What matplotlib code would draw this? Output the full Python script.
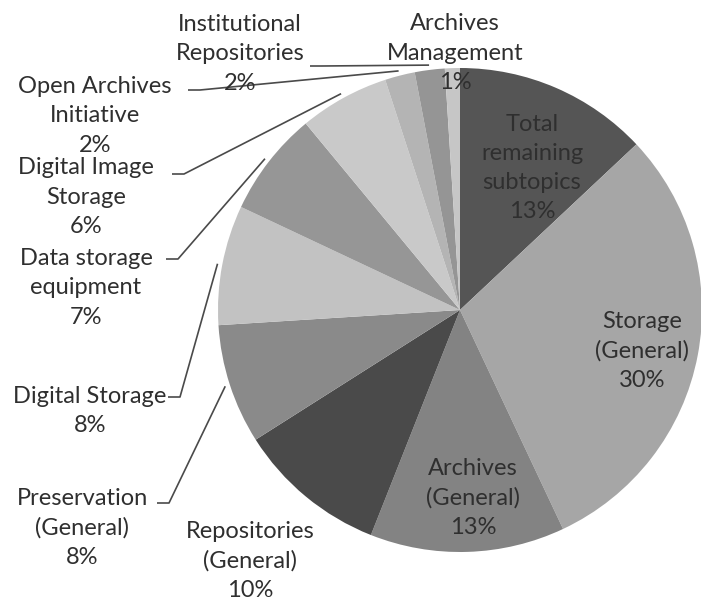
import numpy as np
import matplotlib.pyplot as plt

# Subtopic shares, clockwise from 12 o'clock
topics = [
    "Total\nremaining\nsubtopics",
    "Storage\n(General)",
    "Archives\n(General)",
    "Repositories\n(General)",
    "Preservation\n(General)",
    "Digital Storage",
    "Data storage\nequipment",
    "Digital Image\nStorage",
    "Open Archives\nInitiative",
    "Institutional\nRepositories",
    "Archives\nManagement",
]
shares = [13, 30, 13, 10, 8, 8, 7, 6, 2, 2, 1]
greys = ["#555555", "#a6a6a6", "#838383", "#4a4a4a", "#8a8a8a", "#c2c2c2",
         "#969696", "#c9c9c9", "#b4b4b4", "#959595", "#c6c6c6"]

W, H = 701, 603
CX, CY, R = 460, 310, 242   # pie centre and radius in pixels


def px(x, y):
    """pixel position (from top-left) -> data units of the pie axes"""
    return (x - CX) / R, (CY - y) / R


plt.rcParams['font.family'] = ['Lato', 'DejaVu Sans']
fig = plt.figure(figsize=(W / 100, H / 100), dpi=100)
ax = fig.add_axes([0, 0, 1, 1])

wedges, _ = ax.pie(shares, colors=greys, startangle=90, counterclock=False,
                   radius=1, center=(0, 0), frame=True,
                   wedgeprops=dict(linewidth=0))
ax.set_xlim(-CX / R, (W - CX) / R)
ax.set_ylim((CY - H) / R, CY / R)
ax.axis('off')

# label centres (pixels)
label_pos = {
    0: (532, 168),
    1: (642, 351),
    2: (473, 498),
    3: (250, 561),
    4: (82, 528),
    5: (90, 411),
    6: (86, 288),
    7: (86, 197),
    8: (95, 116),
    9: (240, 54),
    10: (455, 53),
}
# where each leader line leaves its label (pixels)
leader_start = {
    4: (157, 503),
    5: (168, 397),
    6: (166, 259),
    7: (172, 174),
    8: (188, 90),
    9: (310, 66),
}

txt_color = "#2f2f2f"
for i, (name, val) in enumerate(zip(topics, shares)):
    x, y = px(*label_pos[i])
    ax.text(x, y, f"{name}\n{val}%", ha='center', va='center',
            fontsize=17, color=txt_color, linespacing=1.48)

for i, (sx, sy) in leader_start.items():
    w = wedges[i]
    mid = np.deg2rad((w.theta1 + w.theta2) / 2)
    ex, ey = 1.02 * np.cos(mid), 1.02 * np.sin(mid)
    x0, y0 = px(sx, sy)
    x1, y1 = px(sx + 12, sy)
    ax.plot([x0, x1, ex], [y0, y1, ey], color="#4a4a4a", lw=1.2,
            solid_capstyle='butt')

fig.savefig("out.png", dpi=100, facecolor="white")
